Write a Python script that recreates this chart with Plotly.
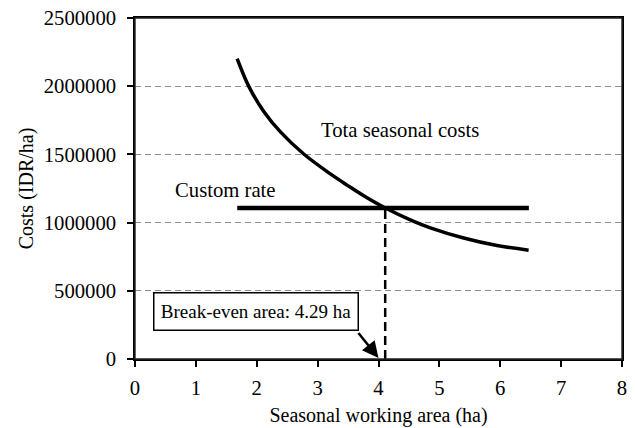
import plotly.graph_objects as go

# Total seasonal costs curve
area_ha = [1.678, 1.869, 2.115, 2.389, 2.772, 3.21, 3.484, 3.757, 4.113, 4.578, 4.852, 5.399, 5.947, 6.466]
total_cost = [2202000, 1999000, 1815000, 1665000, 1503000, 1357000, 1275000, 1197000, 1107000,
              1009000, 962000, 887000, 832000, 798000]

# Custom rate line
rate_x = [1.68, 6.47]
rate_y = [1107000, 1107000]

# Break-even vertical marker
breakeven_x = [4.11, 4.11]
breakeven_y = [0, 1107000]

x_ticks = [0, 1, 2, 3, 4, 5, 6, 7, 8]
y_ticks = [0, 500000, 1000000, 1500000, 2000000, 2500000]

FONT = "Liberation Serif, Times New Roman, serif"

fig = go.Figure()
fig.add_trace(go.Scatter(x=area_ha, y=total_cost, mode="lines",
                         line=dict(color="black", width=3.5, shape="spline", smoothing=1.0),
                         hoverinfo="skip", showlegend=False))
fig.add_trace(go.Scatter(x=rate_x, y=rate_y, mode="lines",
                         line=dict(color="black", width=4.5),
                         hoverinfo="skip", showlegend=False))
fig.add_trace(go.Scatter(x=breakeven_x, y=breakeven_y, mode="lines",
                         line=dict(color="black", width=2.5, dash="9px,5px"),
                         hoverinfo="skip", showlegend=False))

fig.update_layout(
    width=635, height=428,
    margin=dict(l=135, r=13, t=18, b=69),
    paper_bgcolor="white", plot_bgcolor="white",
    font=dict(family=FONT, size=20, color="black"),
    showlegend=False,
    xaxis=dict(range=[0, 8], tickvals=x_ticks, ticktext=[str(v) for v in x_ticks],
               showgrid=False, zeroline=False, automargin=False,
               showline=True, linecolor="black", linewidth=1.5, mirror=True,
               ticks="outside", ticklen=6, tickwidth=1.5, tickcolor="black",
               tickfont=dict(size=20.7), ticklabelstandoff=3, ticklabeloverflow="allow",
               title=dict(text="Seasonal working area (ha)", font=dict(size=20), standoff=10)),
    yaxis=dict(range=[0, 2500000], tickvals=y_ticks, ticktext=[str(v) for v in y_ticks],
               showgrid=True, gridcolor="#8c8c8c", gridwidth=1, griddash="6px,4px",
               zeroline=False, automargin=False,
               showline=True, linecolor="black", linewidth=1.5, mirror=True,
               ticks="outside", ticklen=6, tickwidth=1.5, tickcolor="black",
               tickfont=dict(size=20.7), ticklabelstandoff=7, ticklabeloverflow="allow",
               title=dict(text="Costs (IDR/ha)", font=dict(size=20), standoff=5)),
)

# plot-area frame
fig.add_shape(type="rect", xref="paper", yref="paper", x0=0, y0=0, x1=1, y1=1,
              line=dict(color="#222222", width=1.4), fillcolor="rgba(0,0,0,0)", layer="above")

fig.add_annotation(x=3.02, y=1681000, xref="x", yref="y", text="Tota seasonal costs",
                   showarrow=False, xanchor="left", yanchor="middle", font=dict(size=20.7))
fig.add_annotation(x=0.63, y=1241000, xref="x", yref="y", text="Custom rate",
                   showarrow=False, xanchor="left", yanchor="middle", font=dict(size=20.7))
fig.add_annotation(x=1.987, y=347000, xref="x", yref="y", text="Break-even area: 4.29 ha",
                   showarrow=False, xanchor="center", yanchor="middle", font=dict(size=19),
                   bordercolor="black", borderwidth=1.5, borderpad=1, bgcolor="white",
                   width=201, height=34)
fig.add_annotation(x=4.0, y=8000, xref="x", yref="y", ax=3.65, ay=202000,
                   axref="x", ayref="y", text="", showarrow=True,
                   arrowhead=2, arrowsize=1.3, arrowwidth=2.5, arrowcolor="black")

fig.write_html("out.html", config={"displayModeBar": False},
               post_script="document.body.style.margin='0';document.body.style.padding='0';")
